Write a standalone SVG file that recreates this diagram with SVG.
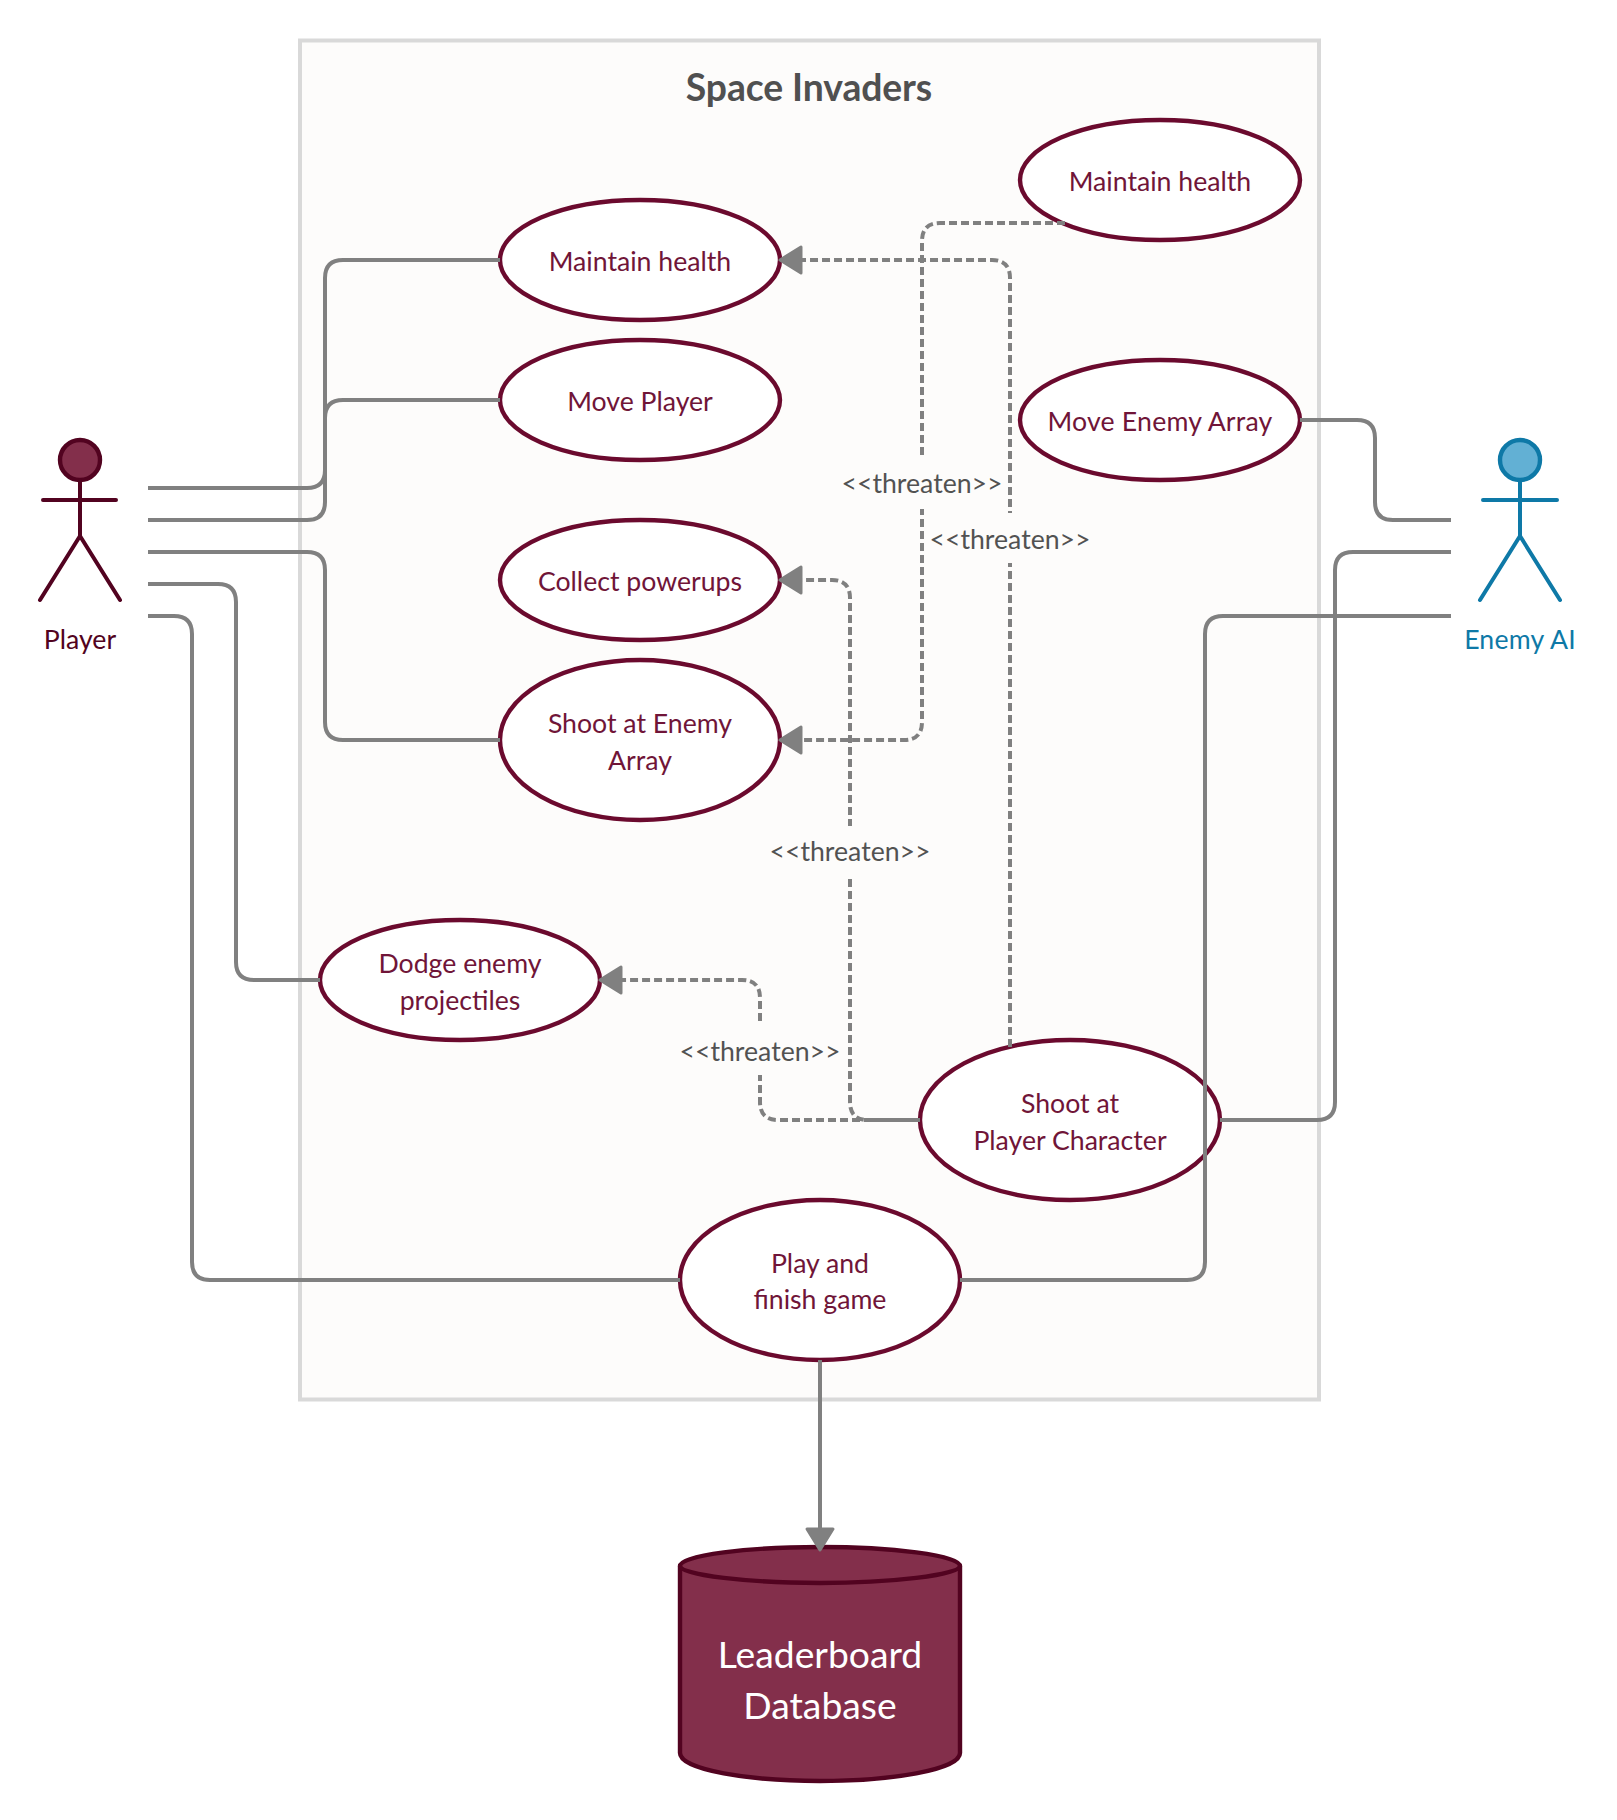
<svg xmlns="http://www.w3.org/2000/svg" width="1617" height="1820" viewBox="0 0 1617 1820">
<style>
text{font-family:Lato,"Liberation Sans",sans-serif;font-size:26.67px;text-anchor:middle}
.uc{fill:#fff;stroke:#6b0a2e;stroke-width:4.400}
.t{fill:#701538}
.c{fill:none;stroke:#808080;stroke-width:4}
.d{fill:none;stroke:#808080;stroke-width:4;stroke-dasharray:8 4}
.lab{fill:#525252}
.gap{fill:#fdfcfb}
.a{fill:none;stroke-width:4;stroke-linecap:round;stroke-linejoin:round}
</style>
<defs>
<marker id="arr" markerUnits="userSpaceOnUse" markerWidth="28" markerHeight="34" refX="2" refY="17" orient="auto" viewBox="0 0 28 34">
<path d="M2 4 L23 17 L2 30 Z" fill="#808080" stroke="#808080" stroke-width="3" stroke-linejoin="round"/>
</marker>
</defs>
<g id="system">
<rect x="300" y="40.500" width="1019" height="1359" fill="#fdfcfb" stroke="#d9d9d9" stroke-width="4"/>
<text x="809" y="101" style="font-size:37.3px;font-weight:700;letter-spacing:-.1px" fill="#505050">Space Invaders</text>
</g>
<g id="uc-maintain-player"><ellipse class="uc" cx="640" cy="260" rx="140" ry="60"/><text class="t" x="640" y="271">Maintain health</text></g>
<g id="uc-move-player"><ellipse class="uc" cx="640" cy="400" rx="140" ry="60"/><text class="t" x="640" y="411">Move Player</text></g>
<g id="uc-powerups"><ellipse class="uc" cx="640" cy="580" rx="140" ry="60"/><text class="t" x="640" y="591">Collect powerups</text></g>
<g id="uc-shoot-enemy"><ellipse class="uc" cx="640" cy="740" rx="140" ry="80"/><text class="t" x="640" y="733">Shoot at Enemy</text><text class="t" x="640" y="770">Array</text></g>
<g id="uc-dodge"><ellipse class="uc" cx="460" cy="980" rx="140" ry="60"/><text class="t" x="460" y="973">Dodge enemy</text><text class="t" x="460" y="1010">projectiles</text></g>
<g id="uc-maintain-enemy"><ellipse class="uc" cx="1160" cy="180" rx="140" ry="60"/><text class="t" x="1160" y="191">Maintain health</text></g>
<g id="uc-move-enemy"><ellipse class="uc" cx="1160" cy="420" rx="140" ry="60"/><text class="t" x="1160" y="431" style="letter-spacing:.2px">Move Enemy Array</text></g>
<g id="uc-shoot-player"><ellipse class="uc" cx="1070" cy="1120" rx="150" ry="80"/><text class="t" x="1070" y="1113">Shoot at</text><text class="t" x="1070" y="1150">Player Character</text></g>
<g id="uc-play"><ellipse class="uc" cx="820" cy="1280" rx="140" ry="80"/><text class="t" x="820" y="1273">Play and</text><text class="t" x="820" y="1309">finish game</text></g>
<g id="database">
<path d="M680 1566 C680 1555 750 1547 820 1547 C890 1547 960 1555 960 1566 V1753 C960 1770 890 1781 820 1781 C750 1781 680 1770 680 1753 Z" fill="#832f4b" stroke="#520320" stroke-width="4.400"/>
<path d="M680 1566 C680 1575 750 1583 820 1583 C890 1583 960 1575 960 1566" fill="none" stroke="#520320" stroke-width="4.400"/>
<text x="820" y="1668" style="font-size:37.3px" fill="#fff">Leaderboard</text>
<text x="820" y="1719" style="font-size:37.3px" fill="#fff">Database</text>
</g>
<g id="actor-player">
<ellipse cx="80" cy="460" rx="20" ry="20" fill="#832f4b" stroke="#520320" stroke-width="4.400"/>
<path class="a" stroke="#520320" d="M80 480V536M43 500H116M40 600L80 536L120 600"/>
<text x="80" y="649" fill="#520320">Player</text>
</g>
<g id="actor-enemy">
<ellipse cx="1520" cy="460" rx="20" ry="20" fill="#62b0d4" stroke="#0e79a7" stroke-width="4.400"/>
<path class="a" stroke="#0e79a7" d="M1520 480V536M1483 500H1557M1480 600L1520 536L1560 600"/>
<text x="1520" y="649" fill="#0e79a7" style="letter-spacing:.2px">Enemy AI</text>
</g>
<g id="connectors">
<path class="c" d="M148 488H307Q325 488 325 470V278Q325 260 343 260H500"/>
<path class="c" d="M148 520H307Q325 520 325 502V418Q325 400 343 400H500"/>
<path class="c" d="M148 552H307Q325 552 325 570V722Q325 740 343 740H500"/>
<path class="c" d="M148 584H218Q236 584 236 602V962Q236 980 254 980H320"/>
<path class="c" d="M148 616H174Q192 616 192 634V1262Q192 1280 210 1280H680"/>
<path class="c" d="M1300 420H1357Q1375 420 1375 438V502Q1375 520 1393 520H1451"/>
<path class="c" d="M1220 1120H1317Q1335 1120 1335 1102V570Q1335 552 1353 552H1451"/>
<path class="c" d="M960 1280H1187Q1205 1280 1205 1262V634Q1205 616 1223 616H1451"/>
<path class="c" marker-end="url(#arr)" d="M820 1360V1529"/>
<path class="d" marker-end="url(#arr)" d="M1065 223H940Q922 223 922 241V722Q922 740 904 740H801"/>
<path class="d" marker-end="url(#arr)" d="M1010 1047V278Q1010 260 992 260H801"/>
<path class="d" marker-end="url(#arr)" style="stroke-dashoffset:4" d="M920 1120H868Q850 1120 850 1102V598Q850 580 832 580H801"/>
<path class="d" marker-end="url(#arr)" d="M920 1120H778Q760 1120 760 1102V998Q760 980 742 980H621"/>
<rect class="gap" x="912" y="458" width="20" height="51"/>
<rect class="gap" x="1000" y="513" width="20" height="50"/>
<rect class="gap" x="840" y="826" width="20" height="50"/>
<rect class="gap" x="750" y="1024" width="20" height="51"/>
<text class="lab" x="922" y="493">&lt;&lt;threaten&gt;&gt;</text>
<text class="lab" x="1010" y="549">&lt;&lt;threaten&gt;&gt;</text>
<text class="lab" x="850" y="861">&lt;&lt;threaten&gt;&gt;</text>
<text class="lab" x="760" y="1061">&lt;&lt;threaten&gt;&gt;</text>
</g>
</svg>
